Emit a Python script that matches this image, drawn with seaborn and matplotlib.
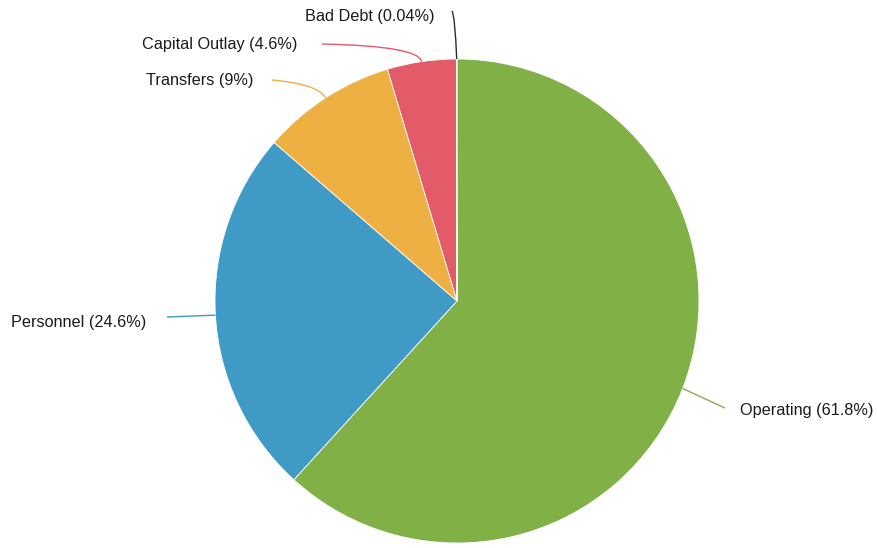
import numpy as np
import matplotlib
matplotlib.use("Agg")
import matplotlib.pyplot as plt
import seaborn as sns
from matplotlib.path import Path
from matplotlib.patches import PathPatch

sns.set_theme(style="white")
plt.rcParams["font.family"] = ["Liberation Sans", "DejaVu Sans"]

# Expenditure shares (percent), clockwise from twelve o'clock
categories = ["Operating", "Personnel", "Transfers", "Capital Outlay", "Bad Debt"]
shares = [61.8, 24.6, 9.0, 4.6, 0.04]
share_labels = ["61.8%", "24.6%", "9%", "4.6%", "0.04%"]
colors = ["#80b046", "#3f9ac6", "#eeb043", "#e35a68", "#2b2b2b"]

W, H = 878, 548
fig = plt.figure(figsize=(W / 100, H / 100), dpi=100)
ax = fig.add_axes([0, 0, 1, 1])

cx, cy, R = 457, 301, 242

# y axis is inverted, so counterclock=True renders clockwise on screen
wedges, _ = ax.pie(shares, colors=colors, startangle=-90, counterclock=True,
                   center=(cx, cy), radius=R, frame=True,
                   wedgeprops=dict(edgecolor="white", linewidth=0.6))
ax.set_xlim(0, W)
ax.set_ylim(H, 0)
ax.set_aspect("equal")
ax.axis("off")

# label anchor points and leader-line bends (screen pixels)
label_layout = {
    "Operating":      dict(bend=None, end=(725, 408), text=(740, 411), ha="left"),
    "Personnel":      dict(bend=None, end=(167, 317), text=(146, 322), ha="right"),
    "Transfers":      dict(bend=(318, 84), end=(272, 80), text=(253, 80), ha="right"),
    "Capital Outlay": dict(bend=(419, 46), end=(322, 44), text=(297, 45), ha="right"),
    "Bad Debt":       dict(bend=(455, 16), end=(452, 11), text=(435, 16), ha="right"),
}

total = sum(shares)
start = 0.0
for cat, val, lab, col, w in zip(categories, shares, share_labels, colors, wedges):
    mid = start + val / 2
    start += val
    ang = np.deg2rad(90 - mid / total * 360)
    px = cx + R * np.cos(ang)
    py = cy - R * np.sin(ang)
    lay = label_layout[cat]
    if lay["bend"] is None:
        verts = [(px, py), lay["end"]]
        codes = [Path.MOVETO, Path.LINETO]
    else:
        verts = [(px, py), lay["bend"], lay["end"]]
        codes = [Path.MOVETO, Path.CURVE3, Path.CURVE3]
    ax.add_patch(PathPatch(Path(verts, codes), fill=False, edgecolor=col, lw=1.0))
    tx, ty = lay["text"]
    ax.text(tx, ty, f"{cat} ({lab})", ha=lay["ha"], va="center",
            fontsize=11.7, color="#1a1a1a")

fig.savefig("out.png", dpi=100, facecolor="white")
